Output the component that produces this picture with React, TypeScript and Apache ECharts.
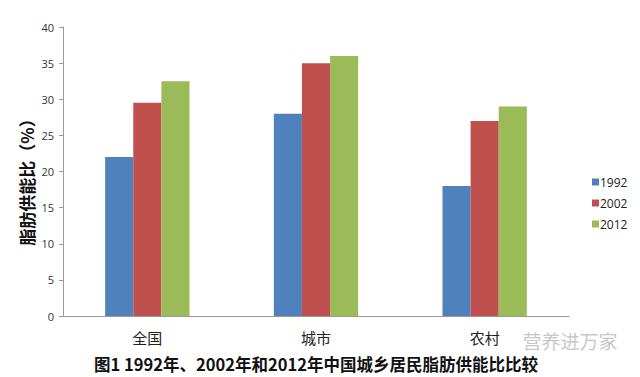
import React, { useEffect, useRef } from "react";
import * as echarts from "echarts";

const categories = ["全国", "城市", "农村"];
const seriesNames = ["1992", "2002", "2012"];
const values1992 = [22, 28, 18];
const values2002 = [29.5, 35, 27];
const values2012 = [32.5, 36, 29];
const colors = ["#4F81BD", "#C0504D", "#9BBB59"];
const titleText = "图1 1992年、2002年和2012年中国城乡居民脂肪供能比比较";
const yName = "脂肪供能比（%）";
const watermark = "营养进万家";

export default function App() {
  const ref = useRef<HTMLDivElement>(null);
  useEffect(() => {
    if (!ref.current) return;
    const chart = echarts.init(ref.current, null, { renderer: "svg" });
    const data = [values1992, values2002, values2012];
    chart.setOption({
      animation: false,
      backgroundColor: "#ffffff",
      grid: { left: 63, right: 71, top: 27, bottom: 61, containLabel: false },
      legend: {
        orient: "vertical",
        left: 587,
        top: 171,
        itemWidth: 7,
        itemHeight: 7,
        itemGap: 9,
        icon: "rect",
        textStyle: { fontSize: 12, color: "#222", fontFamily: "Open Sans", padding: [0, 0, 0, -4] },
        data: seriesNames,
      },
      xAxis: {
        type: "category",
        data: categories,
        axisLine: { lineStyle: { color: "#9a9a9a" } },
        axisTick: { show: false },
        axisLabel: { fontSize: 15, color: "#222", margin: 14, fontFamily: "Noto Sans CJK SC" },
      },
      yAxis: {
        type: "value",
        min: 0,
        max: 40,
        interval: 5,
        axisLine: { show: true, lineStyle: { color: "#9a9a9a" } },
        axisTick: { show: true, length: 4, lineStyle: { color: "#9a9a9a" } },
        splitLine: { show: false },
        axisLabel: { fontSize: 11, color: "#333", margin: 9, fontFamily: "Open Sans" },
      },
      series: seriesNames.map((n, i) => ({
        name: n,
        type: "bar",
        data: data[i],
        barGap: "0%",
        barCategoryGap: "50%",
        itemStyle: { color: colors[i] },
      })),
      graphic: [
        {
          type: "text",
          x: 26,
          y: 178,
          rotation: Math.PI / 2,
          style: {
            text: yName,
            fontSize: 17,
            fontWeight: "bold",
            fill: "#111",
            align: "center",
            verticalAlign: "middle",
            fontFamily: "Noto Sans CJK SC",
          },
        },
        {
          type: "text",
          x: 570,
          y: 340,
          style: {
            text: watermark,
            fontSize: 19,
            fill: "#c8c8c8",
            align: "center",
            verticalAlign: "middle",
            fontFamily: "Noto Sans CJK SC",
          },
        },
        {
          type: "text",
          x: 316,
          y: 364,
          style: {
            text: titleText,
            fontSize: 16.5,
            fontWeight: "bold",
            fill: "#111",
            align: "center",
            verticalAlign: "middle",
            fontFamily: "Noto Sans CJK SC",
          },
        },
      ],
    });
    return () => chart.dispose();
  }, []);
  return (
    <div
      ref={ref}
      style={{ position: "fixed", left: 0, top: 0, width: 640, height: 377 }}
    />
  );
}
